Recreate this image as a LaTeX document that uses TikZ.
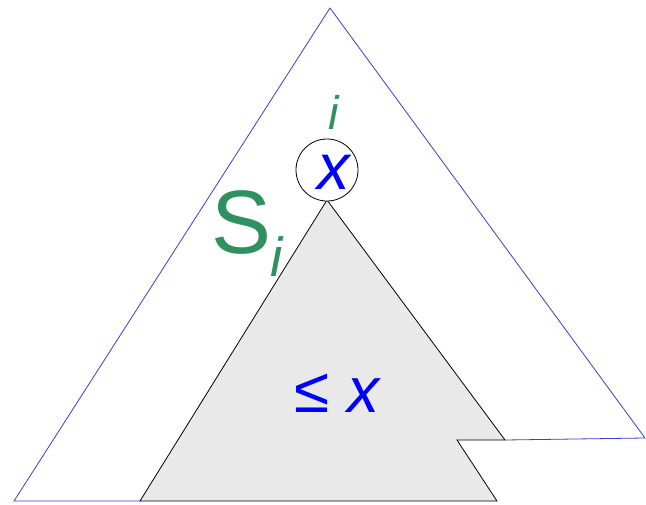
\documentclass[tikz,border=0pt]{standalone}
\usepackage{fontspec}
\setmainfont{Liberation Sans}
\begin{document}
\begin{tikzpicture}[x=1pt,y=-1pt,
  bluec/.style={draw={rgb,255:red,60;green,60;blue,210},line width=0.8pt},
  grayc/.style={draw=black,fill={rgb,255:red,233;green,233;blue,233},line width=0.8pt},
  lab/.style={inner sep=0pt,anchor=base,text depth=0pt}]
\definecolor{sg}{RGB}{46,145,95}
\useasboundingbox (0,0) rectangle (646,504);
\coordinate (A) at (330,8);
\coordinate (BL) at (14,501);
\coordinate (BR) at (645,438);
\coordinate (G1) at (327,200);
\coordinate (G2) at (140,501);
\coordinate (G3) at (497,501);
\coordinate (G4) at (457,440);
\coordinate (G5) at (505,440);
\fill[white] (A) -- (BR) -- (G5) -- (G1) -- (G2) -- (BL) -- cycle;
\draw[bluec] (G5) -- (BR) -- (A) -- (BL) -- (G2);
\draw[grayc] (G1) -- (G2) -- (G3) -- (G4) -- (G5) -- cycle;
\node[circle,draw=black,fill=white,line width=0.8pt,minimum size=62pt,inner sep=0pt] (c) at (327,170) {};
\node[lab,text height=0.52em,text=blue,font=\fontsize{65}{65}\selectfont\itshape] (x) at (334,189) {x};
\node[lab,text height=0.72em,text=sg,font=\fontsize{47}{47}\selectfont\itshape] (i) at (334,129) {i};
\node[lab,text height=0.72em,text=sg,font=\fontsize{90}{90}\selectfont] (S) at (242,253) {S};
\node[lab,text height=0.72em,text=sg,font=\fontsize{55}{55}\selectfont\itshape] (si) at (277,276) {i};
\node[lab,text height=0.59em,text=blue,font=\fontsize{64}{64}\selectfont] (le) at (338,412) {≤ \textit{x}};
\end{tikzpicture}
\end{document}
